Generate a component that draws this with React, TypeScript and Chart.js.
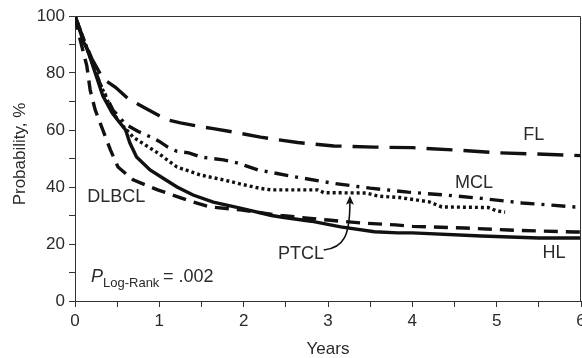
import React, { useEffect, useRef } from 'react';
import { Chart, registerables } from 'chart.js';

Chart.register(...registerables);

// Kaplan-Meier style survival curves (years, probability %)
const flTime = [0, 0.1, 0.2, 0.33, 0.48, 0.63, 0.83, 1.0, 1.1, 1.25, 1.52, 1.64, 1.93, 2.2, 2.64, 3.07, 3.55, 4.0, 4.5, 5.0, 5.45, 6.0];
const flProb = [100, 92, 85, 78, 75, 71, 67.7, 65, 63.5, 62.5, 61, 60.5, 59, 57.5, 55.6, 54.4, 54, 53.8, 53, 52, 51.6, 51];

const mclTime = [0, 0.1, 0.2, 0.3, 0.45, 0.6, 0.75, 0.9, 1.0, 1.1, 1.21, 1.35, 1.49, 1.63, 1.76, 1.93, 2.02, 2.17, 2.6, 3.04, 3.5, 3.95, 4.38, 4.82, 5.3, 5.93, 6.0];
const mclProb = [100, 92, 84, 76, 67, 62, 59.5, 57.5, 56, 54, 52.5, 52, 50.5, 50, 49.5, 48.4, 47.5, 46, 43.6, 41.4, 39.6, 38.2, 37.2, 36, 34.4, 33, 33];

const ptclTime = [0, 0.1, 0.2, 0.3, 0.45, 0.55, 0.69, 0.82, 0.98, 1.21, 1.49, 1.76, 2.0, 2.2, 2.32, 2.88, 2.95, 3.45, 3.6, 3.85, 4.2, 4.35, 4.9, 5.0, 5.1];
const ptclProb = [100, 92, 84, 76, 66, 62, 57.5, 55, 52, 47, 44.2, 42.5, 40.8, 39.5, 39, 39, 38, 37.9, 36.8, 36.3, 34.8, 33, 32.8, 31.6, 31.2];

const hlTime = [0, 0.1, 0.15, 0.24, 0.33, 0.44, 0.52, 0.6, 0.65, 0.73, 0.89, 1.05, 1.21, 1.4, 1.64, 1.96, 2.33, 2.48, 2.8, 3.15, 3.55, 3.83, 4.0, 4.82, 5.5, 6.0];
const hlProb = [100, 91, 88, 80, 72, 66, 63, 60, 55.5, 50.5, 46, 43, 40, 37.2, 34.7, 32.6, 30, 29.3, 28, 26, 24.3, 23.9, 23.9, 22.8, 22.1, 22.1];

const dlbclTime = [0, 0.05, 0.14, 0.18, 0.24, 0.33, 0.42, 0.51, 0.69, 0.98, 1.33, 1.6, 1.96, 2.44, 3.0, 3.39, 3.8, 4.0, 4.62, 5.14, 5.93, 6.0];
const dlbclProb = [100, 93, 82.5, 74, 67, 60, 53, 47, 42.5, 39, 35.4, 33, 32, 30, 28.4, 27.4, 26.7, 26.2, 25.6, 24.9, 24.2, 24.2];

const xTickValues = [0, 1, 2, 3, 4, 5, 6];
const yTickValues = [0, 20, 40, 60, 80, 100];

// Curve labels placed in data units
const curveLabels = [
  { text: 'FL', x: 5.44, y: 58.2 },
  { text: 'MCL', x: 4.73, y: 41.4 },
  { text: 'HL', x: 5.68, y: 16.8 },
  { text: 'DLBCL', x: 0.49, y: 36.5 },
  { text: 'PTCL', x: 2.68, y: 16.5 },
];

const FONT = '"Liberation Sans", Arial, sans-serif';
const INK = '#111';
const TEXT = '#2a2a2a';

const toXY = (t: number[], p: number[]) => t.map((x, i) => ({ x, y: p[i] }));

const annotationPlugin = {
  id: 'annotations',
  afterDraw(chart: any) {
    const { ctx, chartArea, scales } = chart;
    const xs = scales.x;
    const ys = scales.y;
    ctx.save();
    // frame top & right
    ctx.strokeStyle = '#333';
    ctx.lineWidth = 1;
    ctx.beginPath();
    ctx.moveTo(chartArea.left, Math.round(chartArea.top) + 0.5);
    ctx.lineTo(chartArea.right - 0.5, Math.round(chartArea.top) + 0.5);
    ctx.lineTo(chartArea.right - 0.5, chartArea.bottom);
    ctx.stroke();

    // curve labels
    ctx.fillStyle = TEXT;
    ctx.font = `18px ${FONT}`;
    ctx.textAlign = 'center';
    ctx.textBaseline = 'middle';
    for (const l of curveLabels) {
      ctx.fillText(l.text, xs.getPixelForValue(l.x), ys.getPixelForValue(l.y));
    }

    // PTCL arrow
    const sx = xs.getPixelForValue(2.95);
    const sy = ys.getPixelForValue(17.9);
    const tx = xs.getPixelForValue(3.26);
    const ty = ys.getPixelForValue(36.6);
    ctx.strokeStyle = INK;
    ctx.lineWidth = 1.6;
    ctx.beginPath();
    ctx.moveTo(sx, sy);
    ctx.bezierCurveTo(sx + 20, sy - 2, tx, sy - 14, tx, ty + 5);
    ctx.stroke();
    ctx.fillStyle = INK;
    ctx.beginPath();
    ctx.moveTo(tx, ty - 1);
    ctx.lineTo(tx - 4, ty + 8);
    ctx.lineTo(tx, ty + 6);
    ctx.lineTo(tx + 4, ty + 8);
    ctx.closePath();
    ctx.fill();

    // P Log-Rank text
    ctx.fillStyle = TEXT;
    ctx.textAlign = 'left';
    ctx.textBaseline = 'alphabetic';
    ctx.font = `italic 18px ${FONT}`;
    ctx.fillText('P', 91, 282);
    ctx.font = `13px ${FONT}`;
    ctx.fillText('Log-Rank', 103, 287);
    ctx.font = `18px ${FONT}`;
    ctx.fillText('= .002', 163, 282);

    // axis titles
    ctx.font = `17px ${FONT}`;
    ctx.textAlign = 'center';
    ctx.textBaseline = 'middle';
    ctx.fillText('Years', (chartArea.left + chartArea.right) / 2, 349);
    ctx.save();
    ctx.translate(20, 154);
    ctx.rotate(-Math.PI / 2);
    ctx.fillText('Probability, %', 0, 0);
    ctx.restore();
    ctx.restore();
  },
};

export default function App() {
  const ref = useRef<HTMLCanvasElement>(null);
  useEffect(() => {
    document.body.style.margin = '0';
    const common = { borderColor: INK, borderWidth: 3.4, pointRadius: 0, tension: 0, fill: false, borderCapStyle: 'butt' as const };
    const chart = new Chart(ref.current as HTMLCanvasElement, {
      type: 'line',
      data: {
        datasets: [
          { label: 'FL', data: toXY(flTime, flProb), borderDash: [26, 11], ...common },
          { label: 'MCL', data: toXY(mclTime, mclProb), borderDash: [14, 7, 3, 7], ...common },
          { label: 'PTCL', data: toXY(ptclTime, ptclProb), borderDash: [3, 3], ...common },
          { label: 'DLBCL', data: toXY(dlbclTime, dlbclProb), borderDash: [14, 8], ...common },
          { label: 'HL', data: toXY(hlTime, hlProb), ...common },
        ],
      },
      options: {
        responsive: false,
        animation: false,
        layout: { padding: { top: 16, right: 1, left: 0, bottom: 0 } },
        plugins: { legend: { display: false }, tooltip: { enabled: false } },
        scales: {
          x: {
            type: 'linear',
            min: 0,
            max: 6,
            ticks: {
              stepSize: 0.5,
              autoSkip: false,
              maxRotation: 0,
              padding: 4,
              color: TEXT,
              font: { family: FONT, size: 17 },
              callback: (v: any) => (xTickValues.includes(Number(v)) ? String(v) : ''),
            },
            grid: { drawOnChartArea: false, drawTicks: true, tickLength: 6, color: '#333', lineWidth: 1 },
            border: { color: '#333', width: 1 },
            afterFit: (s: any) => {
              s.height = 57;
              s.paddingLeft = 0;
              s.paddingRight = 0;
            },
          },
          y: {
            min: 0,
            max: 100,
            ticks: {
              stepSize: 10,
              autoSkip: false,
              padding: 4,
              color: TEXT,
              font: { family: FONT, size: 17 },
              callback: (v: any) => (yTickValues.includes(Number(v)) ? String(v) : ''),
            },
            grid: { drawOnChartArea: false, drawTicks: true, tickLength: 6, color: '#333', lineWidth: 1 },
            border: { color: '#333', width: 1 },
            afterFit: (s: any) => {
              s.width = 75;
              s.paddingTop = 0;
              s.paddingBottom = 0;
            },
          },
        },
      },
      plugins: [annotationPlugin],
    });
    return () => chart.destroy();
  }, []);
  return <canvas ref={ref} width={582} height={358} style={{ display: 'block' }} />;
}
